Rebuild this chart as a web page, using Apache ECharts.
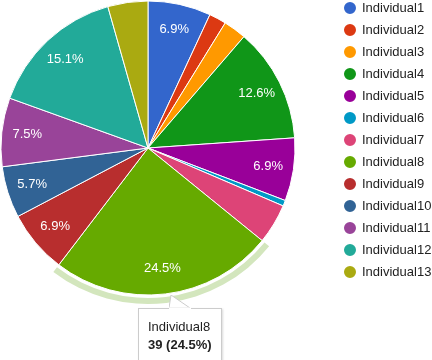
<!DOCTYPE html>
<html>
<head>
<meta charset="utf-8">
<script src="https://cdn.jsdelivr.net/npm/echarts@6/dist/echarts.min.js"></script>
<style>
  html, body { margin: 0; padding: 0; background: #fff; }
  #chart { width: 432px; height: 360px; }
</style>
</head>
<body>
<div id="chart"></div>
<script>
// slice names and values (total 159)
var names = ["Individual1", "Individual2", "Individual3", "Individual4", "Individual5",
  "Individual6", "Individual7", "Individual8", "Individual9", "Individual10",
  "Individual11", "Individual12", "Individual13"];
var values = [11, 3, 4, 20, 11, 1, 7, 39, 11, 9, 12, 24, 7];
var colors = ["#3366cc", "#dc3912", "#ff9900", "#109618", "#990099", "#0099c6",
  "#dd4477", "#66aa00", "#b82e2e", "#316395", "#994499", "#22aa99", "#aaaa11"];
var hovered = 7; // Individual8

var total = values.reduce(function (a, b) { return a + b; }, 0);
var pct = function (v) { return (v / total * 100).toFixed(1); };

var mainData = names.map(function (n, i) {
  return { name: n, value: values[i], itemStyle: { color: colors[i] } };
});
var labelData = names.map(function (n, i) {
  return { name: n, value: values[i] };
});
var ringData = names.map(function (n, i) {
  return {
    name: n, value: values[i],
    itemStyle: { color: i === hovered ? "#d3e6bd" : "rgba(0,0,0,0)" }
  };
});

var chart = echarts.init(document.getElementById("chart"));
chart.setOption({
  animation: false,
  color: colors,
  textStyle: { fontFamily: "Liberation Sans, Arial, sans-serif" },
  legend: {
    orient: "vertical",
    left: 342,
    top: 0,
    padding: 0,
    icon: "circle",
    itemWidth: 14,
    itemHeight: 14,
    itemGap: 6,
    data: names.map(function (n, i) {
      return { name: n, itemStyle: { color: colors[i] } };
    }),
    textStyle: { fontSize: 13, color: "#222", fontFamily: "Liberation Sans" }
  },
  tooltip: {
    trigger: "item",
    alwaysShowContent: true,
    position: [138, 308],
    backgroundColor: "#fff",
    borderColor: "#ccc",
    borderWidth: 1,
    padding: [9, 9, 6, 9],
    extraCssText: "box-shadow:1px 1px 2px rgba(0,0,0,0.15);border-radius:0;overflow:visible;",
    textStyle: { fontSize: 13, color: "#222", fontFamily: "Liberation Sans" },
    formatter: function (p) {
      return '<div style="position:relative;line-height:18px;">' +
        '<svg width="22" height="14" style="position:absolute;left:21px;top:-23px;">' +
        '<polygon points="0,13 2,0 21,13" fill="#fff" stroke="#ccc" stroke-width="1"/>' +
        '<line x1="0" y1="13.5" x2="22" y2="13.5" stroke="#fff" stroke-width="2"/></svg>' +
        p.name + '<br><b>' + p.value + ' (' + pct(p.value) + '%)</b></div>';
    }
  },
  series: [
    {
      type: "pie",
      center: [148, 148],
      radius: [0, 147],
      startAngle: 90,
      z: 3,
      label: { show: false },
      labelLine: { show: false },
      itemStyle: { borderColor: "#fff", borderWidth: 1 },
      emphasis: { scale: false },
      data: mainData
    },
    {
      type: "pie",
      silent: true,
      center: [148, 148],
      radius: [150, 156],
      startAngle: 90,
      z: 2,
      label: { show: false },
      labelLine: { show: false },
      data: ringData
    },
    {
      type: "pie",
      silent: true,
      center: [148, 148],
      radius: [90, 147],
      startAngle: 90,
      z: 4,
      itemStyle: { color: "rgba(0,0,0,0)" },
      labelLine: { show: false },
      label: {
        show: true,
        position: "inside",
        color: "#fff",
        fontSize: 13,
        fontFamily: "Liberation Sans",
        formatter: function (p) {
          return p.value / total >= 0.05 ? pct(p.value) + "%" : "";
        }
      },
      data: labelData
    }
  ]
});
chart.dispatchAction({ type: "showTip", seriesIndex: 0, dataIndex: hovered });
</script>
</body>
</html>
